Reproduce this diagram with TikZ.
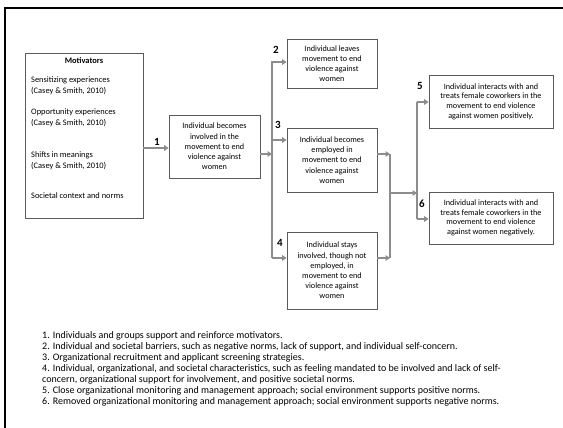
\documentclass[tikz,border=0pt]{standalone}
\usepackage{fontspec}
\setmainfont{Carlito}
\usetikzlibrary{arrows.meta}
\definecolor{boxgray}{HTML}{5A5A5A}
\definecolor{conngray}{HTML}{8C8C8C}
\begin{document}
\begin{tikzpicture}[x=1pt,y=-1pt,
  box/.style={draw=boxgray, line width=0.7pt, align=center, inner sep=0pt,
    font=\fontsize{8.2}{10.2}\selectfont},
  mtext/.style={anchor=mid west, inner sep=0pt, font=\fontsize{8.4}{10}\selectfont},
  note/.style={anchor=mid west, inner sep=0pt, font=\fontsize{10}{11}\selectfont},
  num/.style={inner sep=0pt, font=\fontsize{11}{12}\selectfont\bfseries},
  conn/.style={draw=conngray, line width=1.8pt, -{Triangle[length=4.5pt,width=5.5pt]}},
  plain/.style={draw=conngray, line width=1.8pt},
]
\useasboundingbox (0,0) rectangle (563,428);
\fill[white] (0,0) rectangle (563,428);
% frame
\draw[line width=2.6pt] (5,428) -- (5,8) -- (563,8);

% motivators box
\node[draw=boxgray, line width=0.7pt, minimum width=118pt, minimum height=165pt, inner sep=0pt] (m) at (84,135.5) {};
\node[inner sep=0pt, font=\fontsize{8.4}{10}\selectfont\bfseries, anchor=mid] (mt) at (84,61) {Motivators};
\node[mtext] (m1) at (31,80) {Sensitizing experiences};
\node[mtext] (m2) at (31,91.5) {(Casey \& Smith, 2010)};
\node[mtext] (m3) at (31,112) {Opportunity experiences};
\node[mtext] (m4) at (31,123) {(Casey \& Smith, 2010)};
\node[mtext] (m5) at (31,155) {Shifts in meanings};
\node[mtext] (m6) at (31,166) {(Casey \& Smith, 2010)};
\node[mtext] (m7) at (31,196) {Societal context and norms};

% boxes
\node[box, minimum width=91pt, minimum height=63pt] (b1) at (214.5,146.5)
  {Individual becomes\\involved in the\\movement to end\\violence against\\women};
\node[box, minimum width=90pt, minimum height=49pt] (b2) at (332,63.5)
  {Individual leaves\\movement to end\\violence against\\women};
\node[box, minimum width=90pt, minimum height=64pt] (b3) at (332,160)
  {Individual becomes\\employed in\\movement to end\\violence against\\women};
\node[box, minimum width=90pt, minimum height=77pt] (b4) at (332,270.5)
  {Individual stays\\involved, though not\\employed, in\\movement to end\\violence against\\women};
\node[box, minimum width=124pt, minimum height=53pt, font=\fontsize{8.2}{9.6}\selectfont] (b5) at (491,101.5)
  {Individual interacts with and\\treats female coworkers in the\\movement to end violence\\against women positively.};
\node[box, minimum width=124pt, minimum height=52pt, font=\fontsize{8.2}{9.6}\selectfont] (b6) at (491,218)
  {Individual interacts with and\\treats female coworkers in the\\movement to end violence\\against women negatively.};

% connector points
\coordinate (a1) at (143,148);
\coordinate (t1) at (272,154);
\coordinate (tA) at (272,62);
\coordinate (tB) at (272,140);
\coordinate (tC) at (272,258);
\coordinate (mA) at (390,154);
\coordinate (mB) at (390,258);
\coordinate (mC) at (390,193);
\coordinate (sA) at (417,102);
\coordinate (sB) at (417,219);
\coordinate (sC) at (417,193);

% connectors
\draw[conn] (m.east |- a1) -- (b1.west |- a1);
\draw[conn] (b1.east |- t1) -- (t1);
\draw[conn] (tC) -- (tA) -- (b2.west |- tA);
\draw[conn] (tB) -- (b3.west |- tB);
\draw[conn] (tC) -- (b4.west |- tC);
\draw[conn] (b3.east |- mA) -- (mA);
\draw[conn] (b4.east |- mB) -- (mB);
\draw[plain] (mA) -- (mB);
\draw[conn] (mC) -- (sC);
\draw[plain] (sA) -- (sB);
\draw[conn] (sA) -- (b5.west |- sA);
\draw[conn] (sB) -- (b6.west |- sB);

% labels
\node[num] (n1) at (157,142) {1};
\node[num] (n2) at (276,50) {2};
\node[num] (n3) at (278,125) {3};
\node[num] (n4) at (280,243) {4};
\node[num] (n5) at (420,86) {5};
\node[num] (n6) at (422,204) {6};

% notes
\node[note] (note1) at (42,336) {1. Individuals and groups support and reinforce motivators.};
\node[note] (note2) at (42,347) {2. Individual and societal barriers, such as negative norms, lack of support, and individual self-concern.};
\node[note] (note3) at (42,358) {3. Organizational recruitment and applicant screening strategies.};
\node[note] (note4) at (42,369) {4. Individual, organizational, and societal characteristics, such as feeling mandated to be involved and lack of self-};
\node[note] (note5) at (42,380) {concern, organizational support for involvement, and positive societal norms.};
\node[note] (note6) at (42,391) {5. Close organizational monitoring and management approach; social environment supports positive norms.};
\node[note] (note7) at (42,402) {6. Removed organizational monitoring and management approach; social environment supports negative norms.};
\end{tikzpicture}
\end{document}
